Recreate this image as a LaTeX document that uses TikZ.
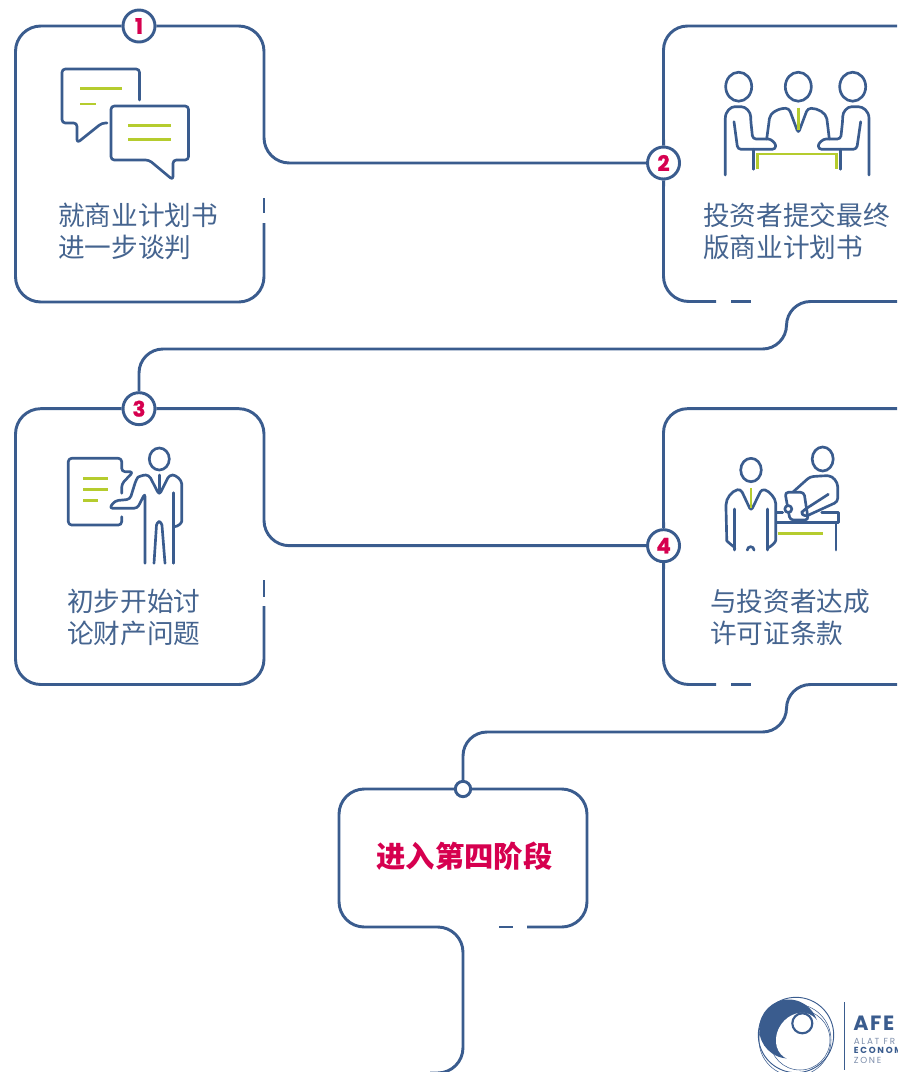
\documentclass[tikz,border=0pt]{standalone}
\usepackage{fontspec}
\newfontfamily\cjk{Noto Sans CJK SC}
\newfontfamily\logofont{Poppins}
\usetikzlibrary{positioning}
\definecolor{wireblue}{HTML}{3A5C8E}
\definecolor{textblue}{HTML}{45648F}
\definecolor{hotred}{HTML}{D6004F}
\definecolor{limeline}{HTML}{B5CC2E}
\definecolor{logogrey}{HTML}{7C8DAA}
\tikzset{
  wire/.style={draw=wireblue,line width=2.2pt,rounded corners=19pt},
  icon/.style={draw=wireblue,line width=2pt,rounded corners=2.5pt,line join=round,line cap=round},
  limestroke/.style={draw=limeline,line width=1.9pt},
  badge/.style={circle,draw=wireblue,line width=2.2pt,fill=white,minimum size=24pt,inner sep=0pt,
    text=hotred,font=\logofont\bfseries\fontsize{16}{16}\selectfont\addfontfeatures{FakeBold=1}},
  boxtext/.style={anchor=west,align=left,inner sep=0pt,text=textblue,
    font=\cjk\fontsize{20}{24}\selectfont},
}
\begin{document}
\begin{tikzpicture}[x=0.75pt,y=-0.75pt,on grid]
   \useasboundingbox (0,0) rectangle (897,1072);
   \clip (0,0) rectangle (897,1072);
   \node[badge] (b_1) at (139,26) {1};
   \node[badge] (b_2) [below right=102.75pt and 393.4pt of b_1] {2};
   \node[badge] (b_3) [below=287pt of b_1] {3};
   \node[badge] (b_4) [below=287pt of b_2] {4};
   \node[circle,draw=wireblue,line width=2.2pt,fill=white,minimum size=11.5pt,inner sep=0pt] (b_5) at (463,789) {};
   \node[boxtext] (t_1) at (58,231) {就商业计划书\\进一步谈判};
   \node[boxtext] (t_2) at (703,231) {投资者提交最终\\版商业计划书};
   \node[boxtext] (t_3) at (67,617) {初步开始讨\\论财产问题};
   \node[boxtext] (t_4) at (710,617) {与投资者达成\\许可证条款};
   \node[boxtext,text=hotred,font=\cjk\bfseries\fontsize{22}{24}\selectfont,anchor=center] (t_5) at (464.5,856.5) {进入第四阶段};
   % box 1
   \draw[wire] (b_1) -- (15.5,26) -- (15.5,302) -- (264,302) -- (264,223);
   \draw[wire] (b_1) -- (264,26) -- (264,163) -- (b_2);
   \draw[wire] (264,198) -- (264,213);
   % box 2
   \draw[wire] (b_2) -- (663.5,301.5) -- (716,301.5);
   \draw[wire] (731,301.5) -- (751,301.5);
   \draw[wire,rounded corners=18pt] (b_2) -- (663.5,26) -- (922,26) -- (922,301.5) -- (786.5,301.5) -- (786.5,349) -- (139,349) -- (b_3);
   % box 3
   \draw[wire] (b_3) -- (15.5,408.67) -- (15.5,684.5) -- (264,684.5) -- (264,606);
   \draw[wire] (b_3) -- (264,408.67) -- (264,545.67) -- (b_4);
   \draw[wire] (264,580) -- (264,597);
   % box 4
   \draw[wire] (b_4) -- (663.5,684.5) -- (716,684.5);
   \draw[wire] (731,684.5) -- (751,684.5);
   \draw[wire,rounded corners=18pt] (b_4) -- (663.5,408.67) -- (922,408.67) -- (922,684.5) -- (786.5,684.5) -- (786.5,732) -- (463,732) -- (b_5);
   % box 5
   \draw[wire] (b_5) -- (339,789) -- (339,927) -- (463,927) -- (463,1073) -- (430,1073);
   \draw[wire] (b_5) -- (587,789) -- (587,927) -- (527,927);
   \draw[wire] (499,927) -- (513,927);
   % chat icon
   \draw[icon] (139.5,100) -- (139.5,69) -- (62,69) -- (62,123) -- (77,123) -- (77,143) -- (102,123) -- (107,123);
   \draw[icon,fill=white] (111,106) -- (188.5,106) -- (188.5,160) -- (173,160) -- (173,180) -- (149,160) -- (111,160) -- cycle;
   \draw[limestroke] (80,88.5) -- (122,88.5) (80,104) -- (96,104);
   \draw[limestroke] (128,125.5) -- (171,125.5) (128,139.5) -- (171,139.5);
   % meeting icon
   \draw[icon] (738.7,86.7) ellipse (13 and 14.5);
   \draw[icon] (798.3,86.7) ellipse (13 and 14.5);
   \draw[icon] (852.7,86.7) ellipse (13 and 14.5);
   \draw[icon] (725.3,175) -- (725.3,121.7) .. controls (725.3,111) and (731,106.7) .. (738,106.7) .. controls (746,106.7) and (750.7,112) .. (750.7,120) -- (752.7,139) -- (765,139) .. controls (771,139) and (775.7,143) .. (775.7,149.3) -- (737.7,149.3) -- (734,121.7);
   \draw[icon] (869,175) -- (869,121.7) .. controls (869,111) and (863,106.7) .. (855,106.7) .. controls (847,106.7) and (842.7,112) .. (842.7,120) -- (840.7,139) -- (829.3,139) .. controls (823,139) and (818.3,143) .. (818.3,149.3) -- (856.7,149.3) -- (860.7,121.7);
   \draw[icon] (753.3,149.3) -- (753.3,169.3) (840.7,149.3) -- (840.7,169.3);
   \draw[icon] (766.7,139) -- (769,122) .. controls (770,113) and (778,108.3) .. (789,108.3) -- (798.3,133.3) -- (807.7,108.3) .. controls (818,108.3) and (826,113) .. (827.3,122) -- (829.3,139);
   \draw[limestroke] (798.3,107.7) -- (798.3,130);
   \draw[limestroke] (757.7,169.3) -- (757.7,154) -- (836.7,154) -- (836.7,169.3);
   % speaker icon
   \draw[icon] (121.7,516.7) -- (121.7,525) -- (68.3,525) -- (68.3,458.3) -- (121.7,458.3) -- (121.7,471.7) -- (133.3,471.7) -- (121.7,484) -- (121.7,493.3);
   \draw[limestroke] (83.3,478.7) -- (107.7,478.7) (83.3,489.7) -- (107.7,489.7) (83.3,500.7) -- (98.3,500.7);
   \draw[icon] (159.3,459) ellipse (10 and 11);
   \draw[icon] (145,563.3) -- (145,493.3) -- (137.3,508.3) -- (109.3,508.3) -- (115,500.7) -- (130,499.3) -- (136,480) .. controls (138,477) and (143,475) .. (149,475) -- (159.3,495) -- (169.3,475) .. controls (176,475) and (181.7,480) .. (181.7,487) -- (181.7,518) .. controls (181.7,523) and (178,526.7) .. (174,526.7);
   \draw[icon] (173.3,492.7) -- (173.3,563.3);
   \draw[icon] (154,563.3) -- (156.7,521.7) -- (161.7,521.7) -- (165,563.3);
   \draw[icon] (159.3,475) -- (159.3,493);
   % deal icon
   \draw[icon] (751,470) ellipse (10.3 and 11.7);
   \draw[icon] (735,547.7) -- (729,543) .. controls (727,541) and (726.7,540) .. (726.7,537) -- (726,508.3) .. controls (726,498) and (732,491) .. (740.7,489) -- (751,511) -- (761.7,489) .. controls (769,491) and (775.7,498) .. (775.7,506.7) -- (775.7,537) .. controls (775.7,542) and (772,546) .. (767.3,548.3);
   \draw[icon] (734.3,509) -- (734.3,550) (767.3,509) -- (767.3,550);
   \draw[icon] (747.3,550) -- (747.3,546.7) -- (754,546.7) -- (754,550);
   \draw[limestroke] (751,488.3) -- (751,508);
   \draw[icon] (822.7,459) ellipse (10.5 and 12);
   \draw[icon] (793.3,491.7) -- (810,476.7) -- (825,475.7) .. controls (833,476) and (837.7,482) .. (837.7,490) -- (837.7,501.7) -- (805,516.7) .. controls (803,515) and (802,512) .. (804,510) -- (828.3,494.3);
   \draw[icon] (785,492.3) -- (804,492.3) -- (808.3,520) -- (790,520) -- cycle;
   \draw[icon,fill=white] (788.3,509) circle (3.5);
   \draw[icon,rounded corners=0pt] (776.7,512.7) -- (782.7,512.7) (821.7,512.7) -- (838.3,512.7) -- (838.3,522.7) -- (776.7,522.7);
   \draw[icon] (836,522.7) -- (836,550);
   \draw[limestroke] (777.7,533.3) -- (823.3,533.3);
   % logo
   \fill[wireblue] (788.7,1029) circle (29.5);
   \fill[white,rotate around={-35:(798.3,1036.5)}] (798.3,1036.5) ellipse (21 and 25);
   \draw[wireblue,line width=0.7pt] (796,1035) circle (37.7);
   \draw[wireblue,line width=0.4pt] (795,1040) circle (36);
   \draw[wireblue,line width=0.4pt] (800,1040) circle (30);
   \draw[wireblue,line width=1.6pt,fill=white] (802.3,1023.3) circle (10);
   \draw[wireblue,line width=0.8pt] (844.5,1002) -- (844.5,1070);
   \node[anchor=base west,inner sep=0pt,text=wireblue,font=\logofont\bfseries\fontsize{15.5}{15.5}\selectfont\addfontfeatures{LetterSpace=8}] (l_1) at (853,1030.7) {AFE};
   \node[anchor=base west,inner sep=0pt,text=logogrey,font=\logofont\fontsize{6.6}{7}\selectfont\addfontfeatures{LetterSpace=20}] (l_2) at (853.5,1044) {ALAT FR};
   \node[anchor=base west,inner sep=0pt,text=wireblue,font=\logofont\bfseries\fontsize{6.6}{7}\selectfont\addfontfeatures{LetterSpace=20}] (l_3) at (853.5,1053.5) {ECONOM};
   \node[anchor=base west,inner sep=0pt,text=logogrey,font=\logofont\fontsize{6.6}{7}\selectfont\addfontfeatures{LetterSpace=20}] (l_4) at (853.5,1063) {ZONE};
\end{tikzpicture}
\end{document}
